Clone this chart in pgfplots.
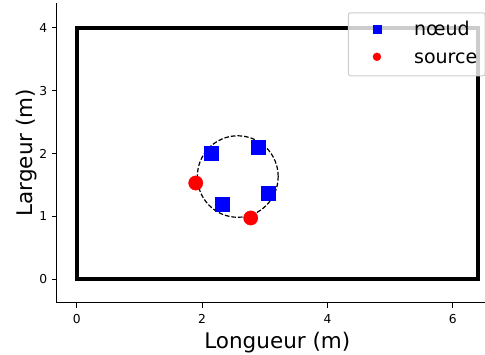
\documentclass[border=0pt]{standalone}
\usepackage{fontspec}
\setmainfont{DejaVu Sans}
\usepackage{pgfplots}
\pgfplotsset{compat=1.18}
\begin{document}
\begin{tikzpicture}
\begin{axis}[
  name=ax,
  at={(0,0)}, anchor=south west,
  width=441.2pt, height=300pt, scale only axis,
  xmin=-0.32, xmax=6.72, ymin=-0.372, ymax=4.398,
  axis x line*=bottom, axis y line*=left,
  axis line style={-, line width=1.1pt, black},
  tick align=outside, major tick length=4.9pt,
  tick style={line width=1.1pt, black},
  xtick={0,2,4,6}, ytick={0,1,2,3,4},
  /pgf/number format/assume math mode=true,
  tick label style={font=\fontsize{12.3}{14}\selectfont},
  xticklabel style={anchor=base, inner sep=0pt, yshift=-15.7pt},
  yticklabel style={anchor=east, inner sep=0pt, xshift=-4.5pt},
  label style={font=\fontsize{21.5}{25}\selectfont},
  xlabel={Longueur (m)}, ylabel={Largeur (m)},
  xlabel style={at={(axis description cs:0.5,-0.1543)}, anchor=base},
  ylabel style={at={(axis description cs:-0.0553,0.5)}, anchor=base},
  legend style={at={(0.972,0.968)}, anchor=north east, fill=white, fill opacity=0.8, text opacity=1,
    draw=black!20, rounded corners=2pt, line width=1pt,
    font=\fontsize{19}{22}\selectfont, inner xsep=7.8pt, inner ysep=8pt, row sep=9pt,
    nodes={inner sep=0pt, text height=14.5pt, text depth=4.5pt}},
  legend cell align=left,
  legend image code/.code={\path (-20.2pt,0) (36.7pt,0); \path[#1, mark size=4pt, fill opacity=1, draw opacity=1] plot coordinates {(0pt,1.5pt)};},
  clip=false,
]
\addplot[black, line width=4.2pt, line cap=rect, line join=miter, forget plot]
  coordinates {(0,0) (6.4,0) (6.4,4) (0,4) (0,0)};
\draw[black, line width=1.2pt, dash pattern=on 4.6pt off 2pt] (axis cs:2.569,1.634) ellipse [x radius=0.645, y radius=0.648];
\addplot[only marks, mark=square*, mark size=7pt, blue, mark options={fill=blue, draw=blue, line width=0.3pt}]
  coordinates {(2.143,2.003) (2.899,2.099) (2.319,1.197) (3.053,1.372)};
\addlegendentry{nœud}
\addplot[only marks, mark=*, mark size=7.2pt, red, mark options={fill=red, draw=red, line width=0.3pt}]
  coordinates {(1.899,1.531) (2.776,0.975)};
\addlegendentry{source}
\end{axis}
\pgfresetboundingbox
\useasboundingbox ([xshift=-56.7pt,yshift=-52.3pt]ax.south west) rectangle ([xshift=428.3pt,yshift=2.7pt]ax.north west);
\end{tikzpicture}
\end{document}
